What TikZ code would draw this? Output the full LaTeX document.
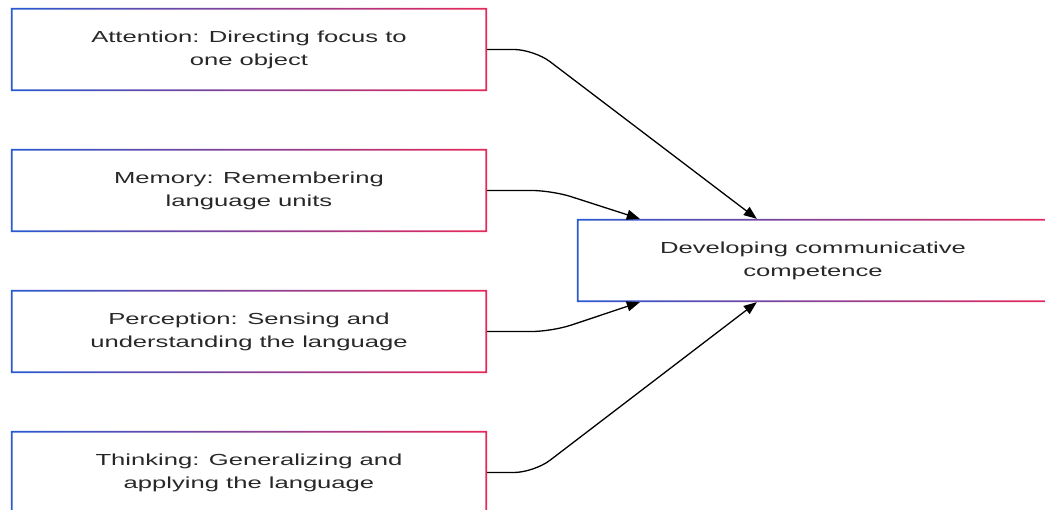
\documentclass[tikz,border=0pt]{standalone}
\usepackage{fontspec}
\setmainfont[FakeStretch=1.6]{Liberation Sans}
\usepackage{tikz}
\usetikzlibrary{arrows.meta}

\definecolor{edgeblue}{RGB}{40,90,210}
\definecolor{edgered}{RGB}{230,40,90}
\definecolor{txt}{RGB}{40,40,40}

\begin{document}
\begin{tikzpicture}[x=1pt, y=-1pt,
  box/.style={minimum width=476pt, minimum height=83pt, inner sep=0pt,
    align=center, text=txt, font=\fontsize{16}{23}\selectfont},
  conn/.style={line width=1.3pt, rounded corners=20pt, -{Triangle[length=13pt,width=10pt]}}]
\useasboundingbox (0,0) rectangle (1045,510);
%\draw[help lines, step=50] (0,0) grid (1045,510);

\node[box] (att) at (249,49.5) {Attention: Directing focus to\\one object};
\node[box] (mem) at (249,190.5) {Memory: Remembering\\language units};
\node[box] (per) at (249,331.5) {Perception: Sensing and\\understanding the language};
\node[box] (thi) at (249,472.5) {Thinking: Generalizing and\\applying the language};
\node[box, minimum width=472pt] (dev) at (813,260.5) {Developing communicative\\competence};

% Borders
\foreach \n in {att,mem,per,thi,dev}
  \shade[left color=edgeblue, right color=edgered, even odd rule]
    (\n.south west) rectangle (\n.north east)
    ([shift={(1.8,-1.8)}]\n.south west) rectangle ([shift={(-1.8,1.8)}]\n.north east);

\coordinate (t1) at ([xshift=180pt]dev.north west);
\coordinate (t2) at ([xshift=63pt]dev.north west);
\coordinate (b2) at ([xshift=63pt]dev.south west);
\coordinate (b1) at ([xshift=180pt]dev.south west);

% Links
\draw[conn] (att.east) -- (534,49.5) -- (t1);
\draw[conn] (mem.east) -- (552,190.5) -- (t2);
\draw[conn] (per.east) -- (552,331.5) -- (b2);
\draw[conn] (thi.east) -- (534,472.5) -- (b1);

\end{tikzpicture}
\end{document}
